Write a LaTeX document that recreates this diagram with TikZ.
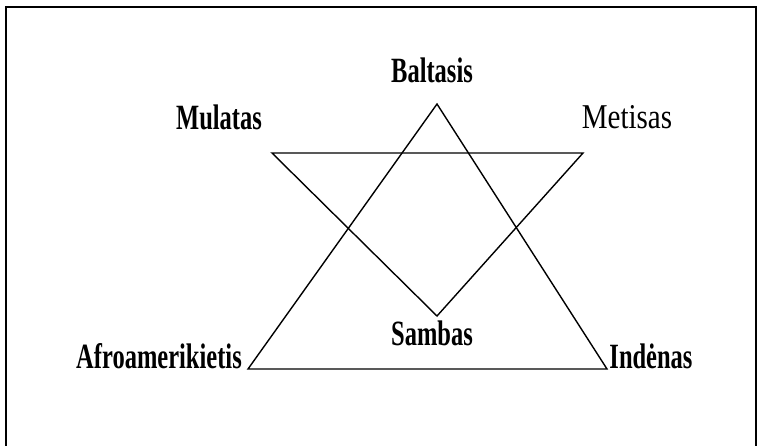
\documentclass[tikz,border=0pt]{standalone}
\usepackage{fontspec}
\setmainfont{Liberation Serif}
\newcommand{\tallb}[1]{\scalebox{1}[1.45]{\fontsize{24.5}{24.5}\selectfont\bfseries #1}}
\newcommand{\tallr}[1]{\scalebox{1}[1.2]{\fontsize{29}{29}\selectfont #1}}
\begin{document}
\begin{tikzpicture}[x=1pt,y=-1pt,
  line/.style={draw=black,line width=1.4pt,line join=miter},
  lbl/.style={inner sep=0pt,anchor=base}]
\useasboundingbox (0,0) rectangle (765,445);
\draw[line width=1.8pt] (6,460) -- (6,7) -- (756,7) -- (756,460);
% big triangle
\coordinate (A) at (437,104);
\coordinate (BL) at (248,369);
\coordinate (BR) at (607,369);
% inverted triangle
\coordinate (TL) at (272,153);
\coordinate (TR) at (583,153);
\coordinate (S) at (437,316);
\draw[line] (A) -- (BL) -- (BR) -- cycle;
\draw[line] (TL) -- (TR) -- (S) -- cycle;
\node[lbl] (balt) at (432,82) {\tallb{Baltasis}};
\node[lbl] (mul) at (219,129) {\tallb{Mulatas}};
\node[lbl] (met) at (627,128) {\tallr{Metisas}};
\node[lbl] (afro) at (159,368) {\tallb{Afroamerikietis}};
\node[lbl] (samb) at (432,345) {\tallb{Sambas}};
\node[lbl] (ind) at (651,368) {\tallb{Indėnas}};
\end{tikzpicture}
\end{document}
